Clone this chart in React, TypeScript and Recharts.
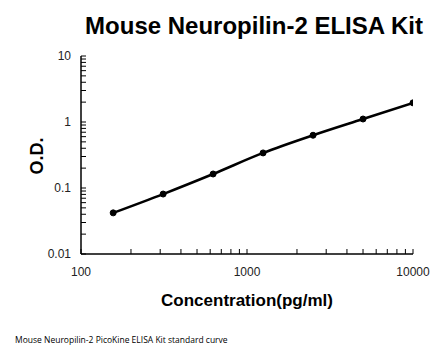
import React from 'react';
import { LineChart, Line, XAxis, YAxis } from 'recharts';

const concentrations = [156.25, 312.5, 625, 1250, 2500, 5000, 10000];
const odValues = [0.042, 0.081, 0.163, 0.34, 0.63, 1.11, 1.95];

const xTicks = [100, 200, 300, 400, 500, 600, 700, 800, 900, 1000, 2000, 3000, 4000, 5000, 6000, 7000, 8000, 9000, 10000];
const yTicks = [
  0.01, 0.02, 0.03, 0.04, 0.05, 0.06, 0.07, 0.08, 0.09,
  0.1, 0.2, 0.3, 0.4, 0.5, 0.6, 0.7, 0.8, 0.9,
  1, 2, 3, 4, 5, 6, 7, 8, 9, 10,
];
const xLabels = [100, 1000, 10000];
const yLabels = [0.01, 0.1, 1, 10];

const data = concentrations.map((c, i) => ({ conc: c, od: odValues[i] }));

const font = 'Arial, "Liberation Sans", sans-serif';

const XTick = (props: any) => {
  const { x, y, payload } = props;
  const v = payload.value;
  return (
    <g>
      <line x1={x} y1={y} x2={x} y2={y - 5} stroke="#000" strokeWidth={1} />
      {xLabels.includes(v) && (
        <text x={x} y={y + 22} textAnchor="middle" fontSize={12} fontFamily={font} fill="#222">
          {v}
        </text>
      )}
    </g>
  );
};

const YTick = (props: any) => {
  const { x, y, payload } = props;
  const v = payload.value;
  return (
    <g>
      <line x1={x} y1={y} x2={x + 5} y2={y} stroke="#000" strokeWidth={1} />
      {yLabels.includes(v) && (
        <text x={x - 10} y={y + 4} textAnchor="end" fontSize={12} fontFamily={font} fill="#222">
          {v}
        </text>
      )}
    </g>
  );
};

const App = () => {
  return (
    <div style={{ position: 'absolute', left: 0, top: 0, width: 446, height: 356, background: '#fff', fontFamily: font }}>
      <div style={{ position: 'absolute', left: 0, width: 446, top: 12, textAlign: 'center', paddingLeft: 62, boxSizing: 'border-box', fontSize: 24, fontWeight: 'bold', color: '#000' }}>
        Mouse Neuropilin-2 ELISA Kit
      </div>
      <LineChart width={446} height={356} data={data} margin={{ top: 56, right: 33, left: 0, bottom: 0 }}>
        <XAxis
          dataKey="conc"
          type="number"
          scale="log"
          domain={[100, 10000]}
          ticks={xTicks}
          interval={0}
          allowDataOverflow
          height={102}
          tickSize={0}
          tickMargin={0}
          tickLine={false}
          tick={<XTick />}
          axisLine={{ stroke: '#000', strokeWidth: 1.5 }}
        />
        <YAxis
          dataKey="od"
          type="number"
          scale="log"
          domain={[0.01, 10]}
          ticks={yTicks}
          interval={0}
          allowDataOverflow
          width={81}
          tickSize={0}
          tickMargin={0}
          tickLine={false}
          tick={<YTick />}
          axisLine={{ stroke: '#000', strokeWidth: 1.5 }}
        />
        <Line
          dataKey="od"
          type="monotone"
          stroke="#000"
          strokeWidth={2.5}
          dot={{ r: 3, fill: '#000', stroke: '#000', strokeWidth: 1 }}
          isAnimationActive={false}
        />
      </LineChart>
      <div style={{ position: 'absolute', left: 37, top: 156, transform: 'translate(-50%, -50%) rotate(-90deg)', whiteSpace: 'nowrap', lineHeight: 1, fontSize: 18, fontWeight: 'bold', color: '#000' }}>
        O.D.
      </div>
      <div style={{ position: 'absolute', left: 81, width: 332, top: 291, textAlign: 'center', fontSize: 17, fontWeight: 'bold', color: '#000' }}>
        Concentration(pg/ml)
      </div>
      <div style={{ position: 'absolute', left: 15, top: 334, fontSize: 8.5, fontFamily: '"Open Sans", sans-serif', color: '#000' }}>
        Mouse Neuropilin-2 PicoKine ELISA Kit standard curve
      </div>
    </div>
  );
};

export default App;
